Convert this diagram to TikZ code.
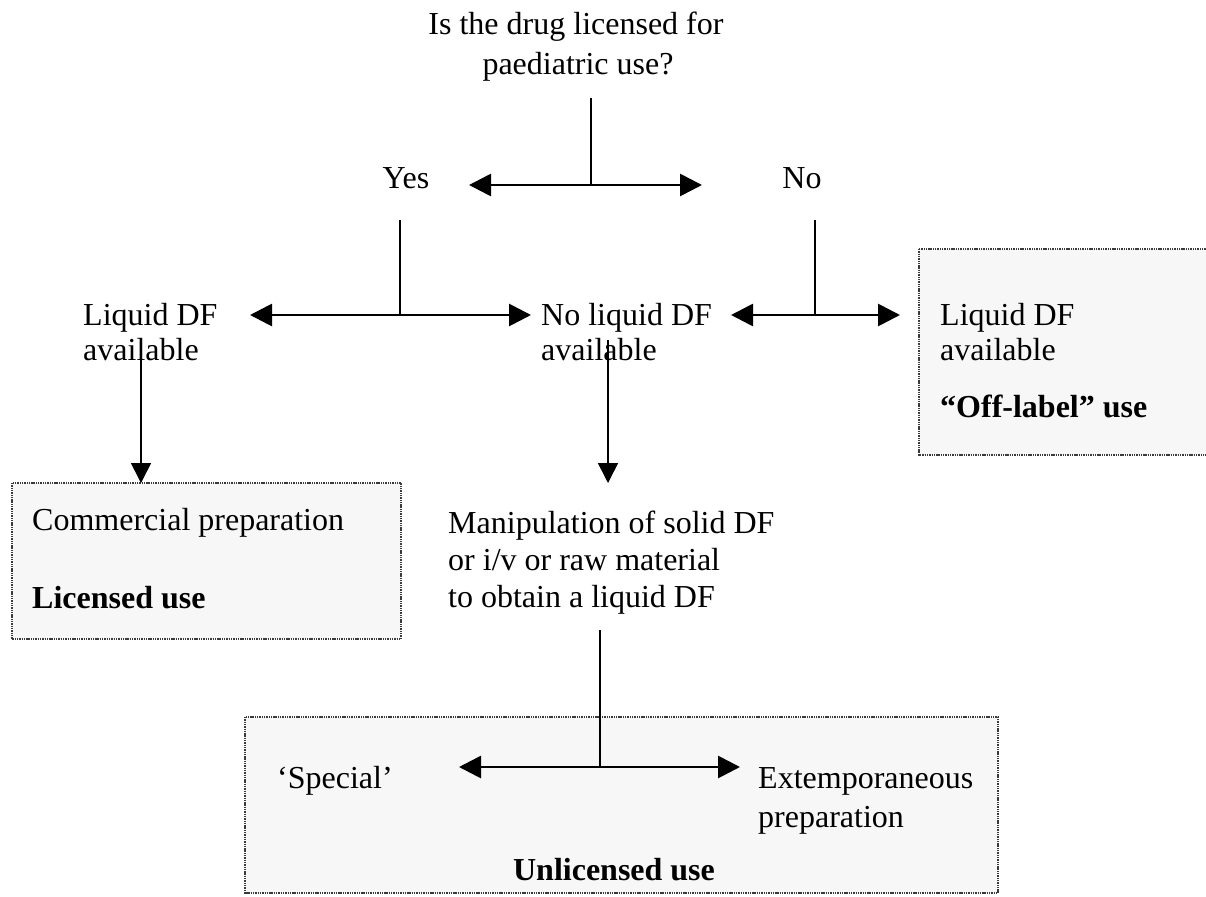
\documentclass[tikz,border=0pt]{standalone}
\usepackage{fontspec}
\setmainfont{Liberation Serif}
\usetikzlibrary{arrows.meta}
\definecolor{boxfill}{HTML}{F7F7F7}
\definecolor{boxline}{HTML}{3A3A3A}
\begin{document}
\begin{tikzpicture}[x=1pt,y=-1pt,
  txt/.style={inner sep=0pt,font=\fontsize{32}{35}\selectfont},
  btxt/.style={txt,font=\fontsize{32}{35}\selectfont\bfseries},
  outbox/.style={fill=boxfill,draw=boxline,line width=1.8pt,dash pattern=on 1.4pt off 0.9pt},
  stem/.style={line width=1.6pt,black},
  fork/.style={line width=2.8pt,black,{Triangle[length=22pt,width=22pt]}-{Triangle[length=22pt,width=22pt]}},
  down/.style={line width=1.6pt,black,-{Triangle[length=20pt,width=20pt]}}
]
\clip (0,0) rectangle (1206,896);
\fill[white] (0,0) rectangle (1206,896);

% boxes
\draw[outbox] (919,249) rectangle (1230,455);
\draw[outbox] (12,483) rectangle (401,639);
\draw[outbox] (245,717) rectangle (998,893);

% texts
\node[txt,anchor=base] (q1) at (576,35) {Is the drug licensed for};
\node[txt,anchor=base] (q2) at (578,75) {paediatric use?};
\node[txt,anchor=base] (yes) at (406,188) {Yes};
\node[txt,anchor=base] (no) at (802,188) {No};

\node[txt,anchor=base west] (l1) at (83,325) {Liquid DF};
\node[txt,anchor=base west] (l2) at (83,360) {available};
\node[txt,anchor=base west] (m1) at (541,325) {No liquid DF};
\node[txt,anchor=base west] (m2) at (541,360) {available};
\node[txt,anchor=base west] (r1) at (940,325) {Liquid DF};
\node[txt,anchor=base west] (r2) at (940,360) {available};
\node[btxt,anchor=base west] (r3) at (940,417) {“Off-label” use};

\node[txt,anchor=base west] (c1) at (32,530) {Commercial preparation};
\node[btxt,anchor=base west] (c2) at (32,608) {Licensed use};

\node[txt,anchor=base west] (p1) at (448,533) {Manipulation of solid DF};
\node[txt,anchor=base west] (p2) at (448,570) {or i/v or raw material};
\node[txt,anchor=base west] (p3) at (448,607) {to obtain a liquid DF};

\node[txt,anchor=base west] (s1) at (277,788) {‘Special’};
\node[txt,anchor=base west] (e1) at (758,788) {Extemporaneous};
\node[txt,anchor=base west] (e2) at (758,827) {preparation};
\node[btxt,anchor=base] (u1) at (614,880) {Unlicensed use};

% connector coordinates
\coordinate (a0) at (591,98);
\coordinate (a1) at (591,185);
\coordinate (aL) at (469,185);
\coordinate (aR) at (702,185);

\coordinate (b0) at (400,220);
\coordinate (b1) at (400,315);
\coordinate (bL) at (250,315);
\coordinate (bR) at (531,315);

\coordinate (c0) at (815,220);
\coordinate (c1p) at (815,315);
\coordinate (cL) at (731,315);
\coordinate (cR) at (900,315);

\coordinate (d0) at (141,338);
\coordinate (d1) at (141,483);
\coordinate (e0) at (608,340);
\coordinate (e1p) at (608,483);

\coordinate (f0) at (600,630);
\coordinate (f1) at (600,767);
\coordinate (fL) at (459,767);
\coordinate (fR) at (740,767);

% connectors
\draw[stem] (a0) -- (a1);
\draw[fork] (aL) -- (aR);
\draw[stem] (b0) -- (b1);
\draw[fork] (bL) -- (bR);
\draw[stem] (c0) -- (c1p);
\draw[fork] (cL) -- (cR);
\draw[down] (d0) -- (d1);
\draw[down] (e0) -- (e1p);
\draw[stem] (f0) -- (f1);
\draw[fork] (fL) -- (fR);
\end{tikzpicture}
\end{document}
